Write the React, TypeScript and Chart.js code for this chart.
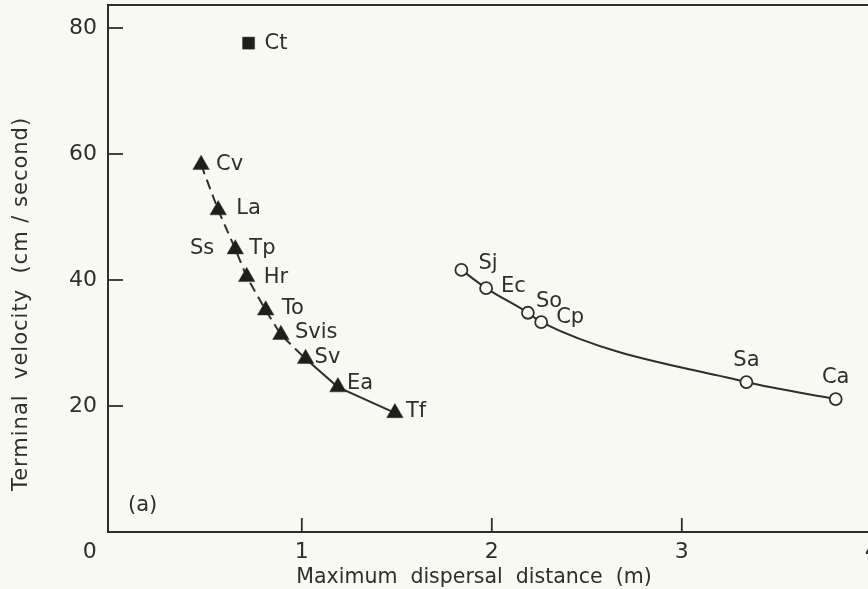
import { useEffect, useRef } from 'react';
import { Chart, registerables } from 'chart.js';

Chart.register(...registerables);

// ---- data ----
const triangleLabels = ['Cv', 'La', 'Tp', 'Hr', 'To', 'Svis', 'Sv', 'Ea', 'Tf'];
const triangleX = [0.47, 0.56, 0.65, 0.71, 0.81, 0.89, 1.02, 1.19, 1.49];
const triangleY = [58.3, 51.1, 44.9, 40.5, 35.2, 31.3, 27.5, 23.0, 18.9];

const squareLabels = ['Ct'];
const squareX = [0.72];
const squareY = [77.6];

const circleLabels = ['Sj', 'Ec', 'So', 'Cp', 'Sa', 'Ca'];
const circleX = [1.84, 1.97, 2.19, 2.26, 3.34, 3.81];
const circleY = [41.6, 38.7, 34.8, 33.3, 23.8, 21.1];

// a second species name sharing the Tp point
const sharedLabelNames = ['Ss'];
const sharedLabelAt = ['Tp'];

const xTickValues = [0, 1, 2, 3, 4];
const yTickValues = [20, 40, 60, 80];

const xTitle = 'Maximum  dispersal  distance  (m)';
const yTitle = 'Terminal  velocity  (cm / second)';
const panelLabel = '(a)';

// ---- styles ----
const INK = '#2e2e2e';
const PAPER = '#f9f9f4';
const FONT = '"DejaVu Sans", "Noto Sans", sans-serif';

type Off = { dx: number; dy: number; align: CanvasTextAlign };
const labelOffsets: Record<string, Off> = {
  Ct: { dx: 16, dy: 0, align: 'left' },
  Cv: { dx: 15, dy: 0, align: 'left' },
  La: { dx: 18, dy: -2, align: 'left' },
  Ss: { dx: -21, dy: -1, align: 'right' },
  Tp: { dx: 14, dy: -1, align: 'left' },
  Hr: { dx: 17, dy: 1, align: 'left' },
  To: { dx: 16, dy: -2, align: 'left' },
  Svis: { dx: 14, dy: -2, align: 'left' },
  Sv: { dx: 9, dy: -1, align: 'left' },
  Ea: { dx: 9, dy: -4, align: 'left' },
  Tf: { dx: 11, dy: -1, align: 'left' },
  Sj: { dx: 17, dy: -6, align: 'left' },
  Ec: { dx: 15, dy: -2, align: 'left' },
  So: { dx: 8, dy: -11, align: 'left' },
  Cp: { dx: 15, dy: -5, align: 'left' },
  Sa: { dx: 0, dy: -22, align: 'center' },
  Ca: { dx: 0, dy: -22, align: 'center' },
};

const overlayPlugin = {
  id: 'overlay',
  afterDraw(chart: any) {
    const { ctx, chartArea, scales } = chart;
    const xs = scales.x;
    const ys = scales.y;
    ctx.save();
    ctx.strokeStyle = INK;
    ctx.fillStyle = INK;
    ctx.lineWidth = 2;

    // top frame line
    ctx.beginPath();
    ctx.moveTo(chartArea.left - 1, chartArea.top);
    ctx.lineTo(chartArea.right, chartArea.top);
    ctx.stroke();

    // inward ticks
    ctx.lineWidth = 1.8;
    yTickValues.forEach((v) => {
      const py = ys.getPixelForValue(v);
      ctx.beginPath();
      ctx.moveTo(chartArea.left, py);
      ctx.lineTo(chartArea.left + 15, py);
      ctx.stroke();
    });
    xTickValues.forEach((v) => {
      if (v === 0) return;
      const px = xs.getPixelForValue(v);
      ctx.beginPath();
      ctx.moveTo(px, chartArea.bottom);
      ctx.lineTo(px, chartArea.bottom - 14);
      ctx.stroke();
    });

    // x tick labels
    ctx.font = `22px ${FONT}`;
    ctx.textBaseline = 'middle';
    ctx.textAlign = 'center';
    xTickValues.forEach((v) => {
      let px = xs.getPixelForValue(v);
      if (v === 0) px -= 22;
      ctx.fillText(String(v), px, chartArea.bottom + 20);
    });

    // axis titles
    ctx.font = `20.5px ${FONT}`;
    ctx.textAlign = 'center';
    ctx.fillText(xTitle, 474, 578);
    ctx.save();
    ctx.translate(22, 304);
    ctx.rotate(-Math.PI / 2);
    ctx.font = `21px ${FONT}`;
    (ctx as any).letterSpacing = '1px';
    ctx.fillText(yTitle, 0, 0);
    (ctx as any).letterSpacing = '0px';
    ctx.restore();

    // panel label
    ctx.font = `21px ${FONT}`;
    ctx.textAlign = 'left';
    ctx.fillText(panelLabel, chartArea.left + 20, chartArea.bottom - 26);

    // point labels
    ctx.font = `21px ${FONT}`;
    const drawLabel = (name: string, px: number, py: number) => {
      const o = labelOffsets[name] || { dx: 14, dy: 0, align: 'left' };
      ctx.textAlign = o.align;
      ctx.fillText(name, px + o.dx, py + o.dy);
    };
    const groups: [string[], number[], number[]][] = [
      [triangleLabels, triangleX, triangleY],
      [squareLabels, squareX, squareY],
      [circleLabels, circleX, circleY],
    ];
    groups.forEach(([names, gx, gy]) => {
      names.forEach((n, i) => drawLabel(n, xs.getPixelForValue(gx[i]), ys.getPixelForValue(gy[i])));
    });
    sharedLabelNames.forEach((n, i) => {
      const j = triangleLabels.indexOf(sharedLabelAt[i]);
      drawLabel(n, xs.getPixelForValue(triangleX[j]), ys.getPixelForValue(triangleY[j]));
    });
    ctx.restore();
  },
};

const zeroPad = (s: any) => {
  s.paddingTop = 0;
  s.paddingBottom = 0;
  s.paddingLeft = 0;
  s.paddingRight = 0;
};

export default function App() {
  const ref = useRef<HTMLCanvasElement | null>(null);

  useEffect(() => {
    if (!ref.current) return;
    const chart = new Chart(ref.current, {
      type: 'scatter',
      data: {
        datasets: [
          {
            label: 'circles',
            data: circleX.map((x, i) => ({ x, y: circleY[i] })),
            showLine: true,
            borderColor: INK,
            borderWidth: 2,
            tension: 0.35,
            cubicInterpolationMode: 'monotone',
            pointStyle: 'circle',
            pointRadius: 6,
            pointBorderWidth: 1.8,
            pointBorderColor: INK,
            pointBackgroundColor: PAPER,
          },
          {
            label: 'triangles',
            data: triangleX.map((x, i) => ({ x, y: triangleY[i] })),
            showLine: true,
            borderColor: INK,
            borderWidth: 2,
            tension: 0,
            segment: {
              borderDash: (c: any) => (c.p0DataIndex < 6 ? [10, 6] : []),
            },
            pointStyle: 'triangle',
            pointRadius: 9.5,
            pointBorderWidth: 0.5,
            pointBorderColor: INK,
            pointBackgroundColor: '#1e1e1e',
          },
          {
            label: 'square',
            data: squareX.map((x, i) => ({ x, y: squareY[i] })),
            showLine: false,
            pointStyle: 'rect',
            pointRadius: 8.5,
            pointBorderWidth: 0.5,
            pointBorderColor: INK,
            pointBackgroundColor: '#1e1e1e',
          },
        ],
      } as any,
      plugins: [overlayPlugin],
      options: {
        animation: false,
        responsive: false,
        events: [],
        layout: { autoPadding: false, padding: { top: 5, right: 0, left: 0, bottom: 0 } },
        plugins: {
          legend: { display: false },
          tooltip: { enabled: false },
        },
        scales: {
          x: {
            type: 'linear',
            min: -0.02,
            max: 3.98,
            afterFit: (s: any) => {
              s.height = 57;
              zeroPad(s);
            },
            afterBuildTicks: (s: any) => {
              s.ticks = [];
            },
            grid: { display: false, drawTicks: false },
            border: { display: true, color: INK, width: 2 },
            ticks: { display: false },
          },
          y: {
            type: 'linear',
            min: 0,
            max: 83.65,
            afterFit: (s: any) => {
              s.width = 108;
              zeroPad(s);
            },
            afterBuildTicks: (s: any) => {
              s.ticks = yTickValues.map((v) => ({ value: v }));
            },
            grid: { display: false, drawTicks: false },
            border: { display: true, color: INK, width: 2 },
            ticks: {
              padding: 11,
              color: INK,
              font: { family: FONT, size: 22 },
            },
          },
        },
      } as any,
    });
    return () => chart.destroy();
  }, []);

  return (
    <div
      style={{
        position: 'fixed',
        left: 0,
        top: 0,
        width: 868,
        height: 589,
        background: PAPER,
      }}
    >
      <canvas ref={ref} width={868} height={589} />
    </div>
  );
}
